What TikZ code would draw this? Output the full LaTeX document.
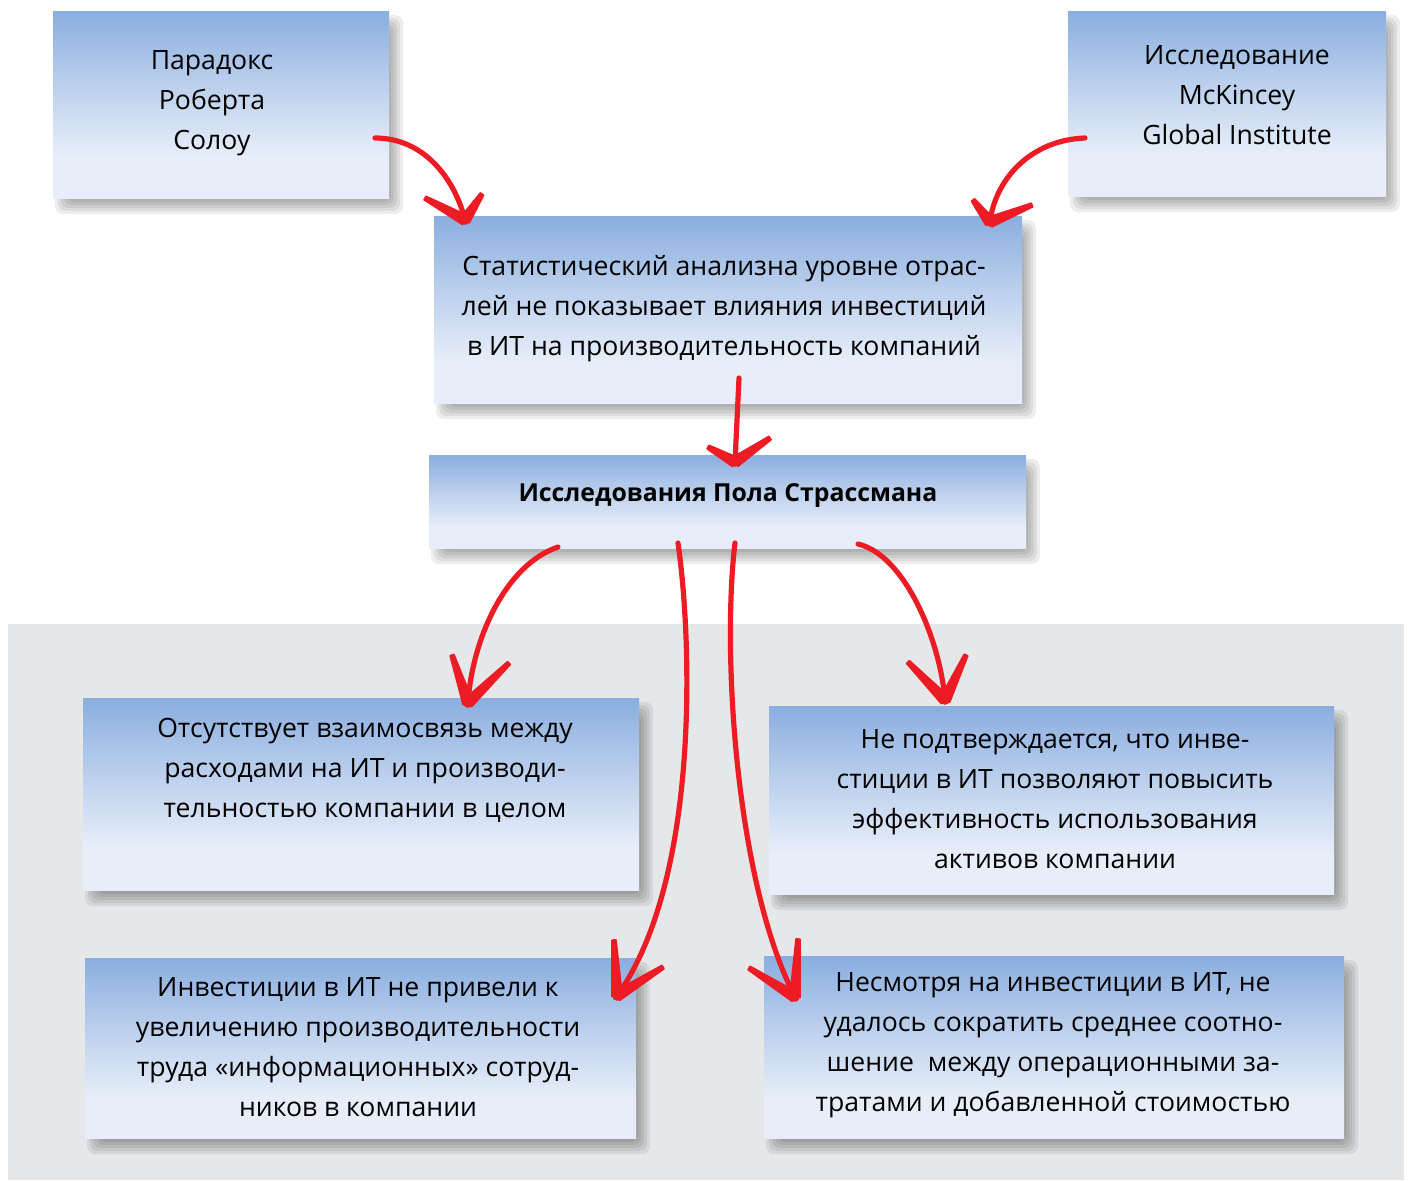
\documentclass[tikz,border=0pt]{standalone}
\usepackage{fontspec}
\setmainfont{Open Sans}
\usetikzlibrary{calc}

\definecolor{panelgray}{RGB}{230,231,232}
\definecolor{boxtop}{RGB}{138,174,223}
\definecolor{boxmid}{RGB}{188,208,237}
\definecolor{boxlight}{RGB}{231,238,249}
\definecolor{arrowred}{RGB}{237,28,36}

\pgfdeclarelayer{bg}
\pgfsetlayers{bg,main}

% vertical fill of the boxes: blue at the top, pale in the lower part
\pgfdeclareverticalshading{boxgrad}{100bp}{%
  color(0bp)=(boxlight); color(25bp)=(boxlight); color(36bp)=(boxlight);
  color(55bp)=(boxmid); color(75bp)=(boxtop); color(100bp)=(boxtop)}

\tikzset{
  box/.style={rectangle, inner sep=0pt, outer sep=0pt, shading=boxgrad},
  txt/.style={align=center, inner sep=0pt,
    font=\fontsize{13.3pt}{20pt}\selectfont},
  brush/.style={draw=arrowred, line width=2.6pt, line cap=round}
}

% soft shadow below and to the right of a box, built from stacked layers
\newcommand\softshadow[1]{%
  \foreach \r in {-6,-3,0,3,6}{%
    \fill[black, opacity=0.07, rounded corners=4pt]
      ($(#1.north west)+(8-\r,10-\r)$) rectangle ($(#1.south east)+(8+\r,10+\r)$);}}

% V-shaped brush head: #1 tip, #2 and #3 the two wing ends
\newcommand\brushhead[3]{%
  \fill[arrowred, draw=arrowred, line width=0.8pt, line join=round]
    ($(#1)!2.6pt!90:(#2)$) -- ($(#2)!1.0pt!-90:(#1)$) -- ($(#2)!1.0pt!90:(#1)$)
    -- ($(#1)!2.6pt!-90:(#2)$) -- cycle;
  \fill[arrowred, draw=arrowred, line width=0.8pt, line join=round]
    ($(#1)!2.6pt!90:(#3)$) -- ($(#3)!1.0pt!-90:(#1)$) -- ($(#3)!1.0pt!90:(#1)$)
    -- ($(#1)!2.6pt!-90:(#3)$) -- cycle;
  \fill[arrowred] (#1) circle (2.4pt);}

\begin{document}
\begin{tikzpicture}[x=0.5pt,y=-0.5pt]
\useasboundingbox (0,0) rectangle (1409,1180);

% boxes
\node[box, minimum width=168pt,   minimum height=93.5pt] (solow)  at (221,104.5) {};
\node[box, minimum width=159pt,   minimum height=92.5pt] (mck)    at (1227,103.5) {};
\node[box, minimum width=294pt,   minimum height=93.5pt] (stat)   at (728,309.5) {};
\node[box, minimum width=298.5pt, minimum height=46.5pt] (strass) at (727.5,501.5) {};
\node[box, minimum width=278pt,   minimum height=96pt]   (nolink) at (361,794) {};
\node[box, minimum width=282.5pt, minimum height=94pt]   (assets) at (1051.5,800) {};
\node[box, minimum width=275.5pt, minimum height=90pt]   (labour) at (360.5,1048) {};
\node[box, minimum width=290pt,   minimum height=91pt]   (ratio)  at (1054,1047) {};

% lower grey panel and the box shadows, behind everything
\begin{pgfonlayer}{bg}
  \fill[panelgray] (8,624) rectangle (1404,1180);
  \foreach \b in {solow,mck,stat,strass,nolink,assets,labour,ratio}{\softshadow{\b}}
\end{pgfonlayer}

% box texts
\node[txt] (solow-t) at (212,103) {Парадокс\\Роберта\\Солоу};
\node[txt] (mck-t) at (1237,95) {Исследование\\McKincey\\Global Institute};
\node[txt] (stat-t) at (724,309) {Статистический анализна уровне отрас-\\лей не показывает влияния инвестиций\\в ИТ на производительность компаний};
\node[txt, font=\fontsize{12.4pt}{20pt}\selectfont\bfseries] (strass-t) at (728,495) {Исследования Пола Страссмана};
\node[txt] (nolink-t) at (365,770) {Отсутствует взаимосвязь между\\расходами на ИТ и производи-\\тельностью компании в целом};
\node[txt] (assets-t) at (1055,799) {Не подтверждается, что инве-\\стиции в ИТ позволяют повысить\\эффективность использования\\активов компании};
\node[txt] (labour-t) at (358,1047) {Инвестиции в ИТ не привели к\\увеличению производительности\\труда «информационных» сотруд-\\ников в компании};
\node[txt] (ratio-t) at (1053,1045) {Несмотря на инвестиции в ИТ, не\\удалось сократить среднее соотно-\\шение~ между операционными за-\\тратами и добавленной стоимостью};

% connector end points
\coordinate (a1s) at ($(solow.north east)+(-14,127)$);
\coordinate (a1e) at ($(stat.north west)+(31,4)$);
\coordinate (a2s) at ($(mck.north west)+(17,127)$);
\coordinate (a2e) at ($(stat.north east)+(-32,6)$);
\coordinate (a3s) at ($(stat.south)+(11,-25)$);
\coordinate (a3e) at ($(strass.north)+(7.5,7)$);
\coordinate (a4s) at ($(strass.south)+(-169.5,-1)$);
\coordinate (a4e) at ($(nolink.north)+(107,5)$);
\coordinate (a5s) at ($(strass.south)+(130.5,-4)$);
\coordinate (a5e) at ($(assets.north)+(-106.5,-6)$);
\coordinate (a6s) at ($(strass.south)+(-49.5,-5)$);
\coordinate (a6e) at ($(labour.north)+(256.5,38)$);
\coordinate (a7s) at ($(strass.south)+(7.5,-5)$);
\coordinate (a7e) at ($(ratio.north)+(-259,41)$);

% connectors
\draw[brush] (a1s) .. controls (425,138) and (455,180) .. (a1e);
\brushhead{a1e}{425,198}{482,194}
\draw[brush] (a2s) .. controls (1030,140) and (995,180) .. (a2e);
\brushhead{a2e}{973,200}{1032,205}
\draw[brush] (a3s) -- (a3e);
\brushhead{a3e}{708,447}{770,438}
\draw[brush] (a4s) .. controls (505,565) and (472,640) .. (a4e);
\brushhead{a4e}{452,655}{509,663}
\draw[brush] (a5s) .. controls (905,555) and (940,640) .. (a5e);
\brushhead{a5e}{908,662}{966,655}
\draw[brush] (a6s) .. controls (692,640) and (700,880) .. (a6e);
\brushhead{a6e}{614,940}{663,967}
\draw[brush] (a7s) .. controls (722,650) and (735,880) .. (a7e);
\brushhead{a7e}{749,968}{798,939}
\end{tikzpicture}
\end{document}
